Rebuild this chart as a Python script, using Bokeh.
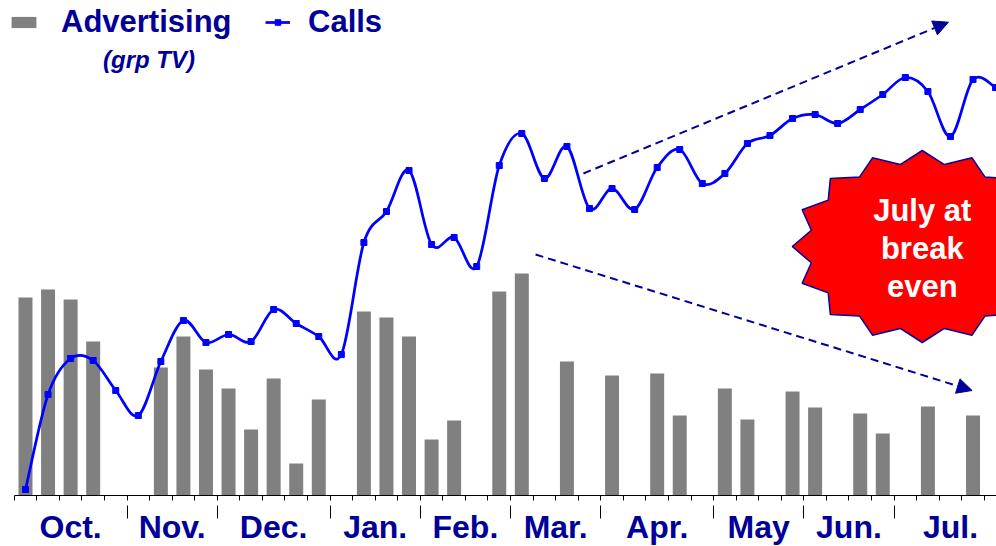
import math
from bokeh.plotting import figure
from bokeh.models import (Range1d, LinearAxis, FixedTicker, Legend, LegendItem,
                          Arrow, NormalHead)
from bokeh.core.properties import value
from bokeh.embed import file_html
from bokeh.resources import INLINE

# ---------------- data ----------------
months = ["Oct.", "Nov.", "Dec.", "Jan.", "Feb.", "Mar.", "Apr.", "May", "Jun.", "Jul."]
weeks_per_month = [5, 4, 5, 4, 4, 4, 5, 4, 4, 5]
advertising = [198, 206, 196, 154, 0, 0, 128, 159, 126, 107, 66, 117, 32, 96, 0,
               184, 178, 159, 56, 75, 0, 204, 222, 0, 134, 0, 120, 0, 122, 80, 0,
               107, 76, 0, 104, 88, 0, 82, 62, 0, 89, 0, 80, 0]
calls = [6, 101, 137, 135, 105, 80, 134, 175, 153, 161, 154, 186, 172, 159, 141,
         253, 284, 325, 251, 258, 229, 330, 362, 317, 349, 287, 307, 286, 328, 346,
         312, 322, 352, 360, 377, 381, 372, 386, 401, 418, 404, 359, 416, 408]
weeks = list(range(len(calls)))

NAVY = "#000099"
BLUE = "#0000FF"
FONT = "Liberation Sans"

# ---------------- layout ----------------
W, H = 996, 546
week_px = 22.56
first_px = 25.0
x_start = -first_px / week_px
x_end = (W - first_px) / week_px

p = figure(width=W, height=H, x_range=Range1d(x_start, x_end), y_range=Range1d(-51, 495),
           x_axis_type=None, y_axis_type=None, toolbar_location=None,
           output_backend="svg", min_border=0, outline_line_color=None)
p.background_fill_color = "white"

# bars
bars = p.vbar(x=weeks, top=advertising, width=0.62, bottom=0,
              fill_color="#808080", line_color=None)

# smoothed calls line (Catmull-Rom -> cubic Bezier)
n = len(calls)
x0s, y0s, x1s, y1s, cx0, cy0, cx1, cy1 = [], [], [], [], [], [], [], []
for i in range(n - 1):
    pa = i - 1 if i > 0 else i
    pd = i + 2 if i + 2 < n else i + 1
    x0s.append(weeks[i]); y0s.append(calls[i])
    x1s.append(weeks[i + 1]); y1s.append(calls[i + 1])
    cx0.append(weeks[i] + (weeks[i + 1] - weeks[pa]) / 6)
    cy0.append(calls[i] + (calls[i + 1] - calls[pa]) / 6)
    cx1.append(weeks[i + 1] - (weeks[pd] - weeks[i]) / 6)
    cy1.append(calls[i + 1] - (calls[pd] - calls[i]) / 6)
curve = p.bezier(x0=x0s, y0=y0s, x1=x1s, y1=y1s, cx0=cx0, cy0=cy0, cx1=cx1, cy1=cy1,
                 line_color=BLUE, line_width=2.75)
pts = p.scatter(x=weeks, y=calls, marker="square", size=6,
                fill_color=BLUE, line_color=BLUE)

# ---------------- x axis ----------------
starts = []
s = 0
for nw in weeks_per_month:
    starts.append(s)
    s += nw
month_centers = [st + nw / 2 - 0.5 for st, nw in zip(starts, weeks_per_month)]
week_edges = [k - 0.5 for k in range(len(weeks))]
month_edges = [st - 0.5 for st in starts[1:]]

ax = LinearAxis(fixed_location=0,
                ticker=FixedTicker(ticks=month_centers, minor_ticks=week_edges),
                bounds=(-0.5, x_end),
                axis_line_color="black", axis_line_width=1,
                major_tick_out=0, major_tick_in=0,
                minor_tick_out=5, minor_tick_in=0, minor_tick_line_color="black",
                major_label_overrides={c: m for c, m in zip(month_centers, months)},
                major_label_standoff=8,
                major_label_text_font=FONT, major_label_text_font_style="bold",
                major_label_text_font_size="32px", major_label_text_color=NAVY)
p.add_layout(ax, "below")

sep = LinearAxis(fixed_location=0,
                 ticker=FixedTicker(ticks=month_edges, minor_ticks=[]),
                 axis_line_color=None,
                 major_tick_in=-10, major_tick_out=23, major_tick_line_color="black",
                 minor_tick_line_color=None,
                 major_label_overrides={e: "" for e in month_edges},
                 major_label_text_font_size="1px")
p.add_layout(sep, "below")

# ---------------- legend ----------------
leg_common = dict(orientation="horizontal", padding=0, margin=0, spacing=0,
                  border_line_color=None, background_fill_alpha=0,
                  label_text_font=FONT, label_text_font_style="bold",
                  label_text_font_size="31px", label_text_color=NAVY,
                  glyph_height=14)
leg1 = Legend(items=[LegendItem(label="Advertising", renderers=[bars])],
              location=(8, 506), glyph_width=31, label_standoff=22, **leg_common)
leg2 = Legend(items=[LegendItem(label="Calls", renderers=[curve, pts])],
              location=(265, 506), glyph_width=25, label_standoff=18, **leg_common)
p.add_layout(leg1)
p.add_layout(leg2)

p.text(x=[(148.5 - first_px) / week_px], y=[436], text=["(grp TV)"],
       text_font=value(FONT), text_font_style="bold italic", text_font_size="24px",
       text_color=NAVY, text_align="center", text_baseline="alphabetic")

# ---------------- trend arrows ----------------
for (xs_, ys_, xe_, ye_) in [(24.73, 322, 40.91, 473.3), (22.61, 241, 41.96, 105)]:
    p.add_layout(Arrow(x_start=xs_, y_start=ys_, x_end=xe_, y_end=ye_,
                       line_color=NAVY, line_width=2, line_dash="8 5",
                       end=NormalHead(size=15, fill_color=NAVY, line_color=NAVY,
                                      line_width=1)))

# ---------------- starburst callout ----------------
star_cx, star_cy = 39.75, 249
star_rx, star_ry = 130 / week_px, 96
sx, sy = [], []
for k in range(32):
    a = math.radians(90 + k * 11.25)
    r = 1.0 if k % 2 == 0 else 0.87
    sx.append(star_cx + r * star_rx * math.cos(a))
    sy.append(star_cy + r * star_ry * math.sin(a))
p.patch(sx, sy, fill_color="#FF0000", line_color=NAVY, line_width=1.5)
p.text(x=[star_cx] * 3, y=[star_cy + 36, star_cy - 2, star_cy - 40],
       text=["July at", "break", "even"], text_font=value(FONT), text_font_style="bold",
       text_font_size="31px", text_color="white", text_align="center",
       text_baseline="alphabetic")

open("out.html", "w").write(file_html(p, INLINE))
